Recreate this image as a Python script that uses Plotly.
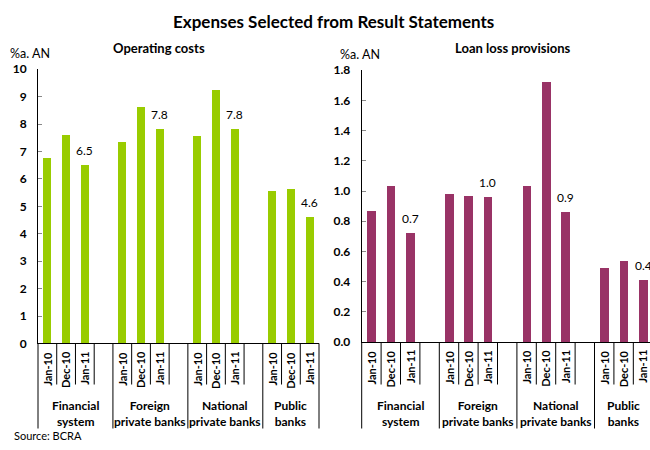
import plotly.graph_objects as go

# ---- data -------------------------------------------------------------
periods = ["Jan-10", "Dec-10", "Jan-11"]
groups = ["Financial<br>system", "Foreign<br>private banks",
          "National<br>private banks", "Public<br>banks"]

# %a. of netted assets, by bank group and period
operating_costs = [
    [6.76, 7.58, 6.49],
    [7.33, 8.60, 7.82],
    [7.54, 9.23, 7.82],
    [5.56, 5.64, 4.62],
]
loan_loss_provisions = [
    [0.87, 1.035, 0.72],
    [0.977, 0.964, 0.958],
    [1.035, 1.72, 0.86],
    [0.49, 0.535, 0.41],
]
labelled_period = "Jan-11"

title = "Expenses Selected from Result Statements"
panel_titles = ["Operating costs", "Loan loss provisions"]
unit_label = "%a. AN"
source_note = "Source: BCRA"

GREEN = "#99CC00"
MAROON = "#993366"
FONT = "Lato"
W, H = 650, 450

# ---- slot layout: each group gets one slot per period plus a spacer ----
slots_per_group = len(periods) + 1
n_slots = len(groups) * slots_per_group - 1


def slot(g, p):
    return g * slots_per_group + p


def py(pix):
    """pixel row -> paper fraction"""
    return (H - pix) / H


panels = [
    dict(values=operating_costs, color=GREEN, xa="x", ya="y",
         xdom=[38 / W, 319 / W], ydom=[py(347), py(63.3)],
         xrange=[-0.5, n_slots - 0.5], yrange=[0, 10], dtick=1, fmt="d",
         axis_pix=347, title_x=158.5, unit_x=8, unit_y=47.3),
    dict(values=loan_loss_provisions, color=MAROON, xa="x2", ya="y2",
         xdom=[361.7 / W, 1.0], ydom=[py(345.7), py(64.3)],
         xrange=[-0.5, 14.36], yrange=[0, 1.8], dtick=0.2, fmt=".1f",
         axis_pix=345.7, title_x=513, unit_x=338, unit_y=48.5),
]

fig = go.Figure()
shapes = []
annotations = []

for k, pn in enumerate(panels):
    xs, ys = [], []
    for g, row in enumerate(pn["values"]):
        for p, v in enumerate(row):
            xs.append(slot(g, p))
            ys.append(v)
    fig.add_trace(go.Bar(x=xs, y=ys, width=0.44, marker_color=pn["color"],
                         marker_line_width=0, xaxis=pn["xa"], yaxis=pn["ya"],
                         showlegend=False, hoverinfo="skip"))

    r0, r1 = pn["xrange"]
    ax_y = py(pn["axis_pix"])
    # category dividers below the axis: long at group edges, short inside
    for b in range(n_slots + 1):
        xb = b - 0.5
        frac = (xb - r0) / (r1 - r0)
        if frac > 1.0001:
            continue
        long_line = b == 0 or b == n_slots or b % slots_per_group == 0
        shapes.append(dict(type="line", xref=pn["xa"] + " domain", yref="paper",
                           x0=frac, x1=frac, y0=ax_y,
                           y1=py(435) if long_line else py(389.5),
                           line=dict(color="black", width=1)))

    # period labels, rotated
    for g in range(len(groups)):
        for p, per in enumerate(periods):
            annotations.append(dict(
                x=slot(g, p), xref=pn["xa"], y=ax_y, yref="paper",
                text=per, textangle=-90, showarrow=False,
                xanchor="center", yanchor="top", yshift=-6,
                font=dict(family=FONT, size=11, color="black", weight="bold")))

    # group labels
    for g, name in enumerate(groups):
        n_in = slots_per_group if g < len(groups) - 1 else len(periods)
        annotations.append(dict(
            x=slot(g, 0) + (n_in - 1) / 2, xref=pn["xa"], y=py(419), yref="paper",
            text=name, showarrow=False, xanchor="center", yanchor="middle",
            font=dict(family=FONT, size=12, color="black", weight="bold")))

    # value labels on the latest period
    pi = periods.index(labelled_period)
    for g, row in enumerate(pn["values"]):
        annotations.append(dict(
            x=slot(g, pi), xref=pn["xa"], y=row[pi], yref=pn["ya"],
            text=f"{row[pi]:.1f}", showarrow=False, yshift=14.5,
            xanchor="center", yanchor="middle",
            font=dict(family=FONT, size=12, color="black")))

    # panel title and unit
    annotations.append(dict(
        x=pn["title_x"] / W, xref="paper", y=py(41.5), yref="paper",
        text=panel_titles[k], showarrow=False,
        xanchor="center", yanchor="middle",
        font=dict(family=FONT, size=13, color="black", weight="bold")))
    annotations.append(dict(
        x=pn["unit_x"] / W, xref="paper", y=py(pn["unit_y"]), yref="paper",
        text=unit_label, showarrow=False, xanchor="left", yanchor="middle",
        font=dict(family=FONT, size=12.5, color="black")))

    axis_common = dict(showgrid=False, zeroline=False, showline=True,
                       linecolor="black", linewidth=1)
    xkey = "xaxis" if pn["xa"] == "x" else "xaxis2"
    ykey = "yaxis" if pn["ya"] == "y" else "yaxis2"
    fig.update_layout(**{
        xkey: dict(domain=pn["xdom"], range=pn["xrange"], anchor=pn["ya"],
                   showticklabels=False, ticks="", fixedrange=True,
                   **axis_common),
        ykey: dict(domain=pn["ydom"], range=pn["yrange"], anchor=pn["xa"],
                   dtick=pn["dtick"], tick0=0, tickformat=pn["fmt"],
                   ticks="inside", ticklen=4, tickcolor="#888888",
                   ticklabelstandoff=8,
                   tickfont=dict(family=FONT, size=12, color="black",
                                 weight="bold"),
                   fixedrange=True, **axis_common),
    })

annotations.append(dict(
    x=333 / W, xref="paper", y=py(13.5), yref="paper", text=title,
    showarrow=False, xanchor="center", yanchor="middle",
    font=dict(family=FONT, size=17, color="black", weight="bold")))
annotations.append(dict(
    x=12 / W, xref="paper", y=py(442), yref="paper", text=source_note,
    showarrow=False, xanchor="left", yanchor="middle",
    font=dict(family=FONT, size=11, color="black")))

fig.update_layout(
    width=W, height=H,
    margin=dict(l=0, r=0, t=0, b=0, pad=0),
    paper_bgcolor="white", plot_bgcolor="white",
    bargap=0, shapes=shapes, annotations=annotations,
)

fig.write_html("out.html", config={"displayModeBar": False})
